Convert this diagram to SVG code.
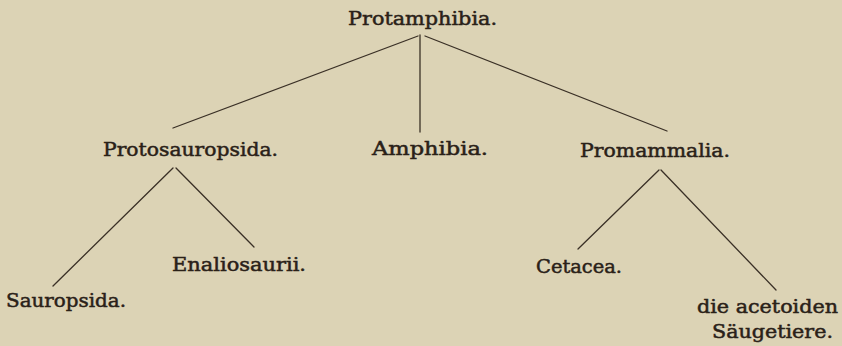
<svg xmlns="http://www.w3.org/2000/svg" width="842" height="346" viewBox="0 0 842 346">
<style>
text{font-family:"DejaVu Serif","Liberation Serif",serif;font-size:19px;fill:#2a2118;stroke:#2a2118;stroke-width:0.5}
.c line{stroke:#3a3026;stroke-width:1.3;stroke-linecap:round}
</style>
<rect width="842" height="346" fill="#dcd3b5"/>
<g class="c" id="connectors">
<line x1="418" y1="36" x2="173" y2="128"/>
<line x1="420" y1="35" x2="420" y2="132"/>
<line x1="425" y1="36" x2="667" y2="131"/>
<line x1="173" y1="168" x2="53" y2="286"/>
<line x1="176" y1="168" x2="254" y2="247"/>
<line x1="659" y1="170" x2="578" y2="249"/>
<line x1="661" y1="170" x2="776" y2="290"/>
</g>
<g id="protamphibia"><text x="348" y="25" textLength="149" lengthAdjust="spacingAndGlyphs">Protamphibia.</text></g>
<g id="protosauropsida"><text x="103" y="156" textLength="175" lengthAdjust="spacingAndGlyphs">Protosauropsida.</text></g>
<g id="amphibia"><text x="372" y="155" textLength="116" lengthAdjust="spacingAndGlyphs">Amphibia.</text></g>
<g id="promammalia"><text x="580" y="157" textLength="150" lengthAdjust="spacingAndGlyphs">Promammalia.</text></g>
<g id="sauropsida"><text x="6" y="307" textLength="120" lengthAdjust="spacingAndGlyphs">Sauropsida.</text></g>
<g id="enaliosaurii"><text x="172" y="271" textLength="134" lengthAdjust="spacingAndGlyphs">Enaliosaurii.</text></g>
<g id="cetacea"><text x="536" y="273" textLength="86" lengthAdjust="spacingAndGlyphs">Cetacea.</text></g>
<g id="saeugetiere"><text x="697" y="313" textLength="141" lengthAdjust="spacingAndGlyphs">die acetoiden</text><text x="712" y="338" textLength="121" lengthAdjust="spacingAndGlyphs">Säugetiere.</text></g>
</svg>
